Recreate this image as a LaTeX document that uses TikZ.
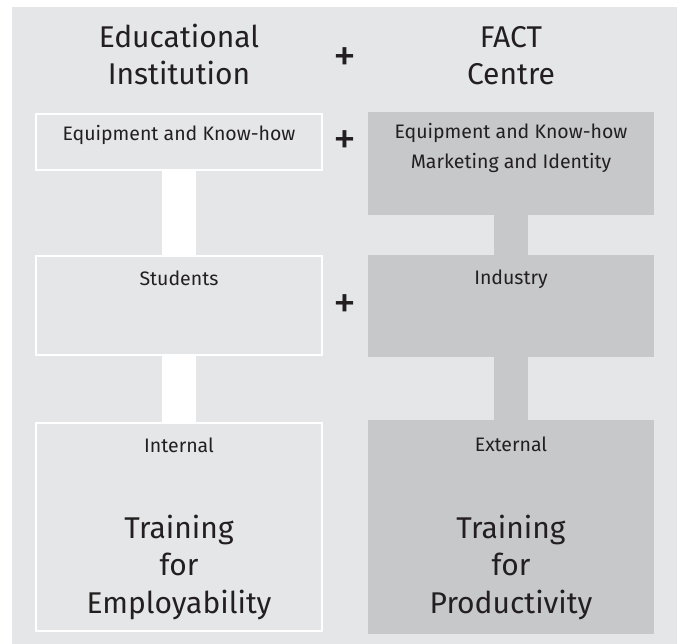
\documentclass[tikz,border=0pt]{standalone}
\usepackage{fontspec}
\setmainfont{Fira Sans}
\definecolor{bggray}{HTML}{E5E6E8}
\definecolor{boxgray}{HTML}{C7C8CA}
\definecolor{ink}{HTML}{231F20}
\begin{document}
\begin{tikzpicture}[x=1pt,y=-1pt,
  lbox/.style={draw=white,line width=2pt,fill=bggray,inner sep=0pt,minimum width=286pt},
  rbox/.style={fill=boxgray,inner sep=0pt,minimum width=286pt},
  lconn/.style={draw=white,line width=34pt},
  rconn/.style={draw=boxgray,line width=34pt},
  bigtxt/.style={text=ink,font=\fontsize{30}{37.5}\selectfont,align=center,anchor=base,inner sep=0pt},
  smalltxt/.style={text=ink,font=\fontsize{19.5}{30}\selectfont,align=center,anchor=base,inner sep=0pt},
  plus/.style={text=ink,font=\fontsize{46}{50}\selectfont,inner sep=0pt}]
\useasboundingbox (0,0) rectangle (680,644);
\fill[bggray] (12,7) rectangle (677,644);
% boxes
\node[lbox,minimum height=56pt] (L1) at (179,141.7) {};
\node[lbox,minimum height=99pt] (L2) at (179,305.5) {};
\node[lbox,minimum height=208.3pt] (L3) at (179,526.85) {};
\node[rbox,minimum height=103pt] (R1) at (511,163.5) {};
\node[rbox,minimum height=102pt] (R2) at (511,306) {};
\node[rbox,minimum height=214pt] (R3) at (511,527) {};
% connectors
\draw[lconn] (L1.south) -- (L2.north);
\draw[lconn] (L2.south) -- (L3.north);
\draw[rconn] (R1.south) -- (R2.north);
\draw[rconn] (R2.south) -- (R3.north);
% headings (anchor = baseline of last line)
\node[bigtxt] (hEdu) at (179,85) {Educational\\Institution};
\node[bigtxt] (hFact) at (511,85) {FACT\\Centre};
\node[plus] (p0) at (345,60) {+};
\node[plus] (p1) at (345,143) {+};
\node[plus] (p2) at (345,307) {+};
% box texts
\node[smalltxt] (tL1) at (179,140.7) {Equipment and Know-how};
\node[smalltxt] (tR1) at (511,169) {Equipment and Know-how\\Marketing and Identity};
\node[smalltxt] (tL2) at (179,286) {Students};
\node[smalltxt] (tR2) at (511,285) {Industry};
\node[smalltxt] (tL3) at (179,452) {Internal};
\node[smalltxt] (tR3) at (511,451) {External};
\node[bigtxt] (bL3) at (179,613) {Training\\for\\Employability};
\node[bigtxt] (bR3) at (511,613) {Training\\for\\Productivity};
\end{tikzpicture}
\end{document}
